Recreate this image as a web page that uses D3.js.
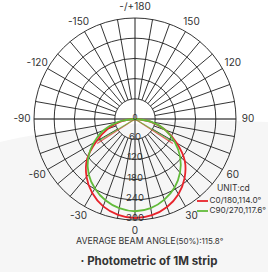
<!DOCTYPE html>
<html>
<head>
<meta charset="utf-8">
<script src="https://cdn.jsdelivr.net/npm/d3@7"></script>
<style>
  html, body { margin: 0; padding: 0; background: #ffffff; }
  svg { display: block; font-family: "Inter", "Noto Sans", sans-serif; }
</style>
</head>
<body>
<div id="vis"></div>
<script>
// gamma angles (0 = straight down, positive to the right)
const angles = [-90, -80, -70, -60, -50, -40, -30, -20, -10, 0, 10, 20, 30, 40, 50, 60, 70, 80, 90];
// intensities in cd
const c0_180  = [0, 44, 86, 132, 186, 224, 254, 276, 289, 294, 290, 278, 258, 229, 193, 143, 96, 48, 0];
const c90_270 = [0, 52, 100, 142, 182, 214, 238, 257, 269, 274, 269, 255, 235, 208, 175, 136, 96, 50, 0];

const ring_values  = [60, 120, 180, 240, 300];
const angle_ticks  = [0, 30, 60, 90, 120, 150, 180, -150, -120, -90, -60, -30];
const series_names = ["C0/180,114.0°", "C90/270,117.6°"];
const series_colors = ["#e8232b", "#62bb3a"];
// half beam angle and end intensity of the beam angle lines
const beam_half = [57.0, 58.8];
const beam_cd   = [134, 126];

const frame_width = 268;
const frame_height = 272;
const cx = 135, cy = 119;

const r_scale = d3.scaleLinear()
    .domain([0, 300])
    .range([0, 101]);

const toRad = (deg) => { return Math.PI - deg * Math.PI / 180; };

const svg = d3.select("#vis")
    .append("svg")
        .attr("width", frame_width)
        .attr("height", frame_height);

// soft grey background swoosh
svg.append("path")
    .attr("d", "M0,142 C60,128 160,118 268,122 L268,272 L0,272 Z")
    .attr("fill", "#f6f6f6");

const g = svg.append("g")
    .attr("transform", "translate(" + cx + "," + cy + ")");

// spokes every 10 degrees, from first ring out
const spokes = d3.range(-170, 190, 10).filter((d) => { return d % 90 != 0; });
g.selectAll(".spoke")
    .data(spokes)
    .enter()
    .append("line")
        .attr("x1", (d) => { return r_scale(60) * Math.sin(toRad(d)); })
        .attr("y1", (d) => { return -r_scale(60) * Math.cos(toRad(d)); })
        .attr("x2", (d) => { return r_scale(300) * Math.sin(toRad(d)); })
        .attr("y2", (d) => { return -r_scale(300) * Math.cos(toRad(d)); })
        .attr("stroke", "#1e1e1e")
        .attr("stroke-width", 0.9);

// main axes
g.append("line")
    .attr("x1", -r_scale(300)).attr("x2", r_scale(300))
    .attr("y1", 0).attr("y2", 0)
    .attr("stroke", "#555").attr("stroke-width", 1.4);
g.append("line")
    .attr("x1", 0).attr("x2", 0)
    .attr("y1", -r_scale(300)).attr("y2", r_scale(300))
    .attr("stroke", "#1e1e1e").attr("stroke-width", 1);

g.selectAll(".ring")
    .data(ring_values)
    .enter()
    .append("circle")
        .attr("r", (d) => { return r_scale(d); })
        .attr("fill", "none")
        .attr("stroke", "#1e1e1e")
        .attr("stroke-width", 0.9);

// curves
const radial = d3.lineRadial()
    .angle((d) => { return toRad(d[0]); })
    .radius((d) => { return r_scale(d[1]); })
    .curve(d3.curveCatmullRom);

const series = [c0_180, c90_270];

// beam angle lines
series.forEach((vals, i) => {
    [-1, 1].forEach((s) => {
        const a = toRad(s * beam_half[i]);
        g.append("line")
            .attr("x1", 0).attr("y1", 0)
            .attr("x2", r_scale(beam_cd[i]) * Math.sin(a))
            .attr("y2", -r_scale(beam_cd[i]) * Math.cos(a))
            .attr("stroke", series_colors[i])
            .attr("stroke-opacity", 0.75)
            .attr("stroke-width", 1.1);
    });
});

g.selectAll(".curve")
    .data(series)
    .enter()
    .append("path")
        .attr("d", (vals) => { return radial(angles.map((a, j) => { return [a, vals[j]]; })); })
        .attr("fill", "none")
        .attr("stroke", (d, i) => { return series_colors[i]; })
        .attr("stroke-width", 1.8);

// ring labels
g.selectAll(".ringlabel")
    .data(ring_values)
    .enter()
    .append("text")
        .attr("x", 0)
        .attr("y", (d) => { return r_scale(d) - 1.5; })
        .attr("text-anchor", "middle")
        .attr("dominant-baseline", "middle")
        .attr("font-size", 9.5)
        .attr("fill", "#333")
        .text((d) => { return d; });

g.append("text")
    .attr("x", 0).attr("y", -1)
    .attr("text-anchor", "middle")
    .attr("dominant-baseline", "middle")
    .attr("font-size", 8)
    .attr("fill", "#333")
    .text("0");

// angle labels
g.selectAll(".anglelabel")
    .data(angle_ticks)
    .enter()
    .append("text")
        .attr("x", (d) => { return 113 * Math.sin(toRad(d)); })
        .attr("y", (d) => { return -112 * Math.cos(toRad(d)); })
        .attr("text-anchor", "middle")
        .attr("dominant-baseline", "middle")
        .attr("font-size", 10)
        .attr("fill", "#333")
        .text((d) => { return d == 180 ? "-/+180" : d; });

// legend
svg.append("text")
    .attr("x", 217).attr("y", 189)
    .attr("dominant-baseline", "middle")
    .attr("font-size", 8.5)
    .attr("fill", "#333")
    .text("UNIT:cd");

const legend = svg.selectAll(".legend")
    .data(series_names)
    .enter()
    .append("g")
        .attr("transform", (d, i) => { return "translate(197," + (201 + i * 10) + ")"; });
legend.append("line")
    .attr("x1", 0).attr("x2", 11)
    .attr("stroke", (d, i) => { return series_colors[i]; })
    .attr("stroke-width", 1.8);
legend.append("text")
    .attr("x", 12.5)
    .attr("dominant-baseline", "middle")
    .attr("font-size", 8.2)
    .attr("fill", "#333")
    .text((d) => { return d; });

// bottom texts
const avg = svg.append("text")
    .attr("x", 76).attr("y", 242)
    .attr("dominant-baseline", "middle")
    .attr("font-size", 8.8)
    .attr("fill", "#333");
avg.append("tspan").text("AVERAGE BEAM ANGLE");
avg.append("tspan").attr("font-size", 8).text("(50%):115.8°");

svg.append("text")
    .attr("x", 149).attr("y", 262)
    .attr("text-anchor", "middle")
    .attr("dominant-baseline", "middle")
    .attr("font-size", 11.5)
    .attr("font-weight", "bold")
    .attr("fill", "#333")
    .text("· Photometric of 1M strip");
</script>
</body>
</html>
